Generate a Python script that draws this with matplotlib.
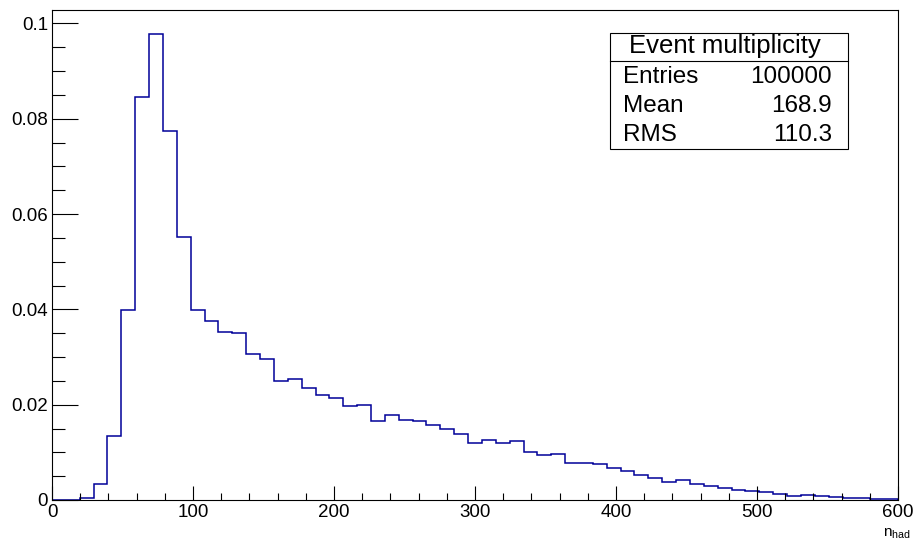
"""
Histograma de multiplicidad de hadrones por evento (estilo ROOT).
"""
#-->Importar librerías
import numpy as np
import matplotlib
matplotlib.use("Agg")
import matplotlib.pyplot as plt
from matplotlib.patches import Rectangle
from matplotlib.lines import Line2D
from matplotlib.ticker import MultipleLocator, FuncFormatter

plt.rcParams["font.family"] = ["Liberation Sans", "DejaVu Sans"]
plt.rcParams["mathtext.fontset"] = "custom"
plt.rcParams["mathtext.rm"] = "Liberation Sans"
plt.rcParams["mathtext.it"] = "Liberation Sans"

#-->Datos del histograma (61 bins entre 0 y 600, normalizado)
x_min = 0
x_max = 600
n_bins = 61
frecuencias = [
    0.0, 0.0, 0.0004, 0.0034, 0.0134, 0.0399, 0.0845, 0.0978, 0.0774, 0.0552,
    0.0399, 0.0376, 0.0353, 0.0350, 0.0306, 0.0296, 0.0250, 0.0254, 0.0236, 0.0220,
    0.0213, 0.0198, 0.0199, 0.0166, 0.0178, 0.0167, 0.0165, 0.0157, 0.0148, 0.0139,
    0.0119, 0.0126, 0.0120, 0.0124, 0.0100, 0.0094, 0.0097, 0.0078, 0.0077, 0.0075,
    0.0067, 0.0061, 0.0053, 0.0047, 0.0038, 0.0041, 0.0034, 0.0029, 0.0025, 0.0022,
    0.0018, 0.0016, 0.0013, 0.0009, 0.0010, 0.0008, 0.0006, 0.0005, 0.0005, 0.0002,
    0.0002,
]

#-->Caja de estadísticas
titulo_stats = "Event multiplicity"
etiquetas_stats = ["Entries", "Mean", "RMS"]
valores_stats = ["100000", "168.9", "110.3"]

#-->Figura
W, H = 916, 541
fig = plt.figure(figsize=(W / 100, H / 100), dpi=100)
ax = fig.add_axes([52 / W, 1 - 500 / H, (898 - 52) / W, (500 - 10) / H])

bordes = np.linspace(x_min, x_max, n_bins + 1)
ax.stairs(frecuencias, bordes, color="#000099", linewidth=1.1)

ax.set_xlim(x_min, x_max)
ax.set_ylim(0, 0.1028)

#-->Ticks estilo ROOT
ax.xaxis.set_major_locator(MultipleLocator(100))
ax.xaxis.set_minor_locator(MultipleLocator(20))
ax.yaxis.set_major_locator(MultipleLocator(0.02))
ax.yaxis.set_minor_locator(MultipleLocator(0.005))
ax.yaxis.set_major_formatter(FuncFormatter(lambda v, p: f"{v:g}"))
ax.tick_params(axis="x", which="major", direction="in", length=10.3, width=0.8,
               labelsize=13.5, pad=3, top=False)
ax.tick_params(axis="x", which="minor", direction="in", length=5.3, width=0.8, top=False)
ax.tick_params(axis="y", which="major", direction="in", length=18.5, width=0.8,
               labelsize=13.5, pad=2.7, right=False)
ax.tick_params(axis="y", which="minor", direction="in", length=9.5, width=0.8, right=False)
for s in ax.spines.values():
    s.set_linewidth(0.8)

#-->Etiqueta eje X
fig.text(883 / W, 1 - 537 / H, r"$\mathrm{n}_{\mathrm{had}}$", ha="left", va="baseline",
         fontsize=11)

#-->Caja de estadísticas
bx0, bx1, by0, by1 = 610, 848, 33, 149
fig.patches.append(Rectangle((bx0 / W, 1 - by1 / H), (bx1 - bx0) / W, (by1 - by0) / H,
                             transform=fig.transFigure, facecolor="white",
                             edgecolor="black", linewidth=0.8, zorder=5))
fig.lines.append(Line2D([bx0 / W, bx1 / W], [1 - 61 / H, 1 - 61 / H],
                        transform=fig.transFigure, color="black", linewidth=0.8, zorder=6))
fig.text(725 / W, 1 - 53 / H, titulo_stats, ha="center", va="baseline",
         fontsize=18.5, zorder=7)
bases = [83, 112, 141]
for lab, val, b in zip(etiquetas_stats, valores_stats, bases):
    fig.text(623 / W, 1 - b / H, lab, ha="left", va="baseline", fontsize=17.5, zorder=7)
    fig.text(832 / W, 1 - b / H, val, ha="right", va="baseline", fontsize=17.5, zorder=7)

fig.savefig("out.png", dpi=100)
